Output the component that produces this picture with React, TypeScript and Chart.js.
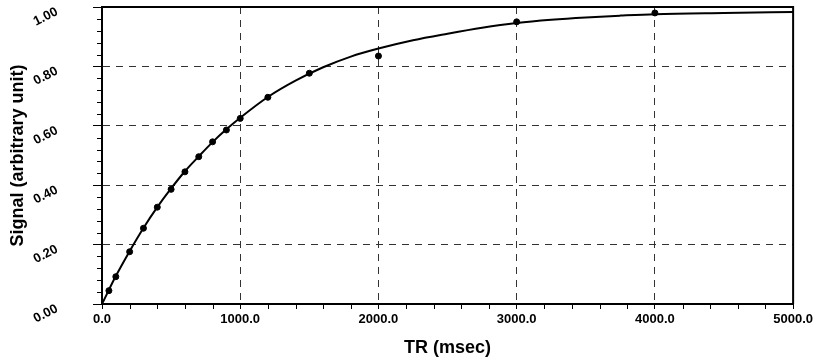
import React, { useEffect, useRef } from "react";
import { Chart, registerables } from "chart.js";

Chart.register(...registerables);

// Measured data points
const trMeasured = [50, 100, 200, 300, 400, 500, 600, 700, 800, 900, 1000, 1200, 1500, 2000, 3000, 4000];
const signalMeasured = [0.045, 0.092, 0.176, 0.255, 0.326, 0.386, 0.445, 0.496, 0.546, 0.586, 0.625, 0.696, 0.777, 0.835, 0.950, 0.980];

// Fitted curve
const trCurve = [0, 100, 200, 300, 400, 500, 600, 700, 800, 900, 1000, 1200, 1400, 1600, 1800, 2000, 2250, 2500, 2750, 3000, 3250, 3500, 3750, 4000, 4500, 5000];
const signalCurve = [0, 0.094, 0.178, 0.256, 0.326, 0.389, 0.447, 0.497, 0.545, 0.588, 0.627, 0.697, 0.752, 0.797, 0.833, 0.860, 0.888, 0.910, 0.930, 0.946, 0.957, 0.965, 0.971, 0.976, 0.980, 0.983];

const xMin = 0, xMax = 5000, xStep = 1000, xMinorStep = 200;
const yMin = 0, yMax = 1, yStep = 0.2, yMinorStep = 0.04;

const xTitle = "TR (msec)";
const yTitle = "Signal (arbitrary unit)";

const FONT = "'Liberation Sans', Arial, Helvetica, sans-serif";

const framePlugin = {
  id: "frameAndMinor",
  afterDraw(chart: any) {
    const { ctx, chartArea } = chart;
    const xs = chart.scales.x;
    const ys = chart.scales.y;
    ctx.save();
    ctx.strokeStyle = "#000";
    ctx.lineWidth = 1;
    // minor ticks x
    for (let v = xMin + xMinorStep; v < xMax; v += xMinorStep) {
      if (Math.abs(v % xStep) < 1e-6) continue;
      const px = Math.round(xs.getPixelForValue(v)) + 0.5;
      ctx.beginPath();
      ctx.moveTo(px, chartArea.bottom);
      ctx.lineTo(px, chartArea.bottom + 5);
      ctx.stroke();
    }
    // minor ticks y
    const n = Math.round((yMax - yMin) / yMinorStep);
    for (let i = 1; i < n; i++) {
      if (i % 5 === 0) continue;
      const v = yMin + i * yMinorStep;
      const py = Math.round(ys.getPixelForValue(v)) + 0.5;
      ctx.beginPath();
      ctx.moveTo(chartArea.left - 5, py);
      ctx.lineTo(chartArea.left, py);
      ctx.stroke();
    }
    // top and right frame
    ctx.lineWidth = 2;
    ctx.beginPath();
    ctx.moveTo(chartArea.left, chartArea.top);
    ctx.lineTo(chartArea.right, chartArea.top);
    ctx.lineTo(chartArea.right, chartArea.bottom);
    ctx.stroke();
    ctx.restore();
  },
};

export default function App() {
  const ref = useRef<HTMLCanvasElement>(null);
  useEffect(() => {
    if (!ref.current) return;
    const chart = new Chart(ref.current, {
      type: "scatter",
      data: {
        datasets: [
          {
            label: "fit",
            data: trCurve.map((x, i) => ({ x, y: signalCurve[i] })),
            showLine: true,
            borderColor: "#000",
            borderWidth: 2,
            pointRadius: 0,
            cubicInterpolationMode: "monotone",
          } as any,
          {
            label: "measured",
            data: trMeasured.map((x, i) => ({ x, y: signalMeasured[i] })),
            showLine: false,
            backgroundColor: "#000",
            borderColor: "#000",
            pointRadius: 3,
          },
        ],
      },
      options: {
        animation: false,
        responsive: true,
        maintainAspectRatio: false,
        layout: { padding: { top: 7, right: 22, left: 0, bottom: 0 } },
        plugins: { legend: { display: false }, tooltip: { enabled: false } },
        scales: {
          x: {
            type: "linear",
            min: xMin,
            max: xMax,
            afterFit: (s: any) => { s.height = 60; },
            ticks: {
              stepSize: xStep,
              maxRotation: 0,
              autoSkip: false,
              padding: 3,
              color: "#000",
              font: { family: FONT, size: 13, weight: "bold" },
              callback: (v: any) => Number(v).toFixed(1),
            },
            grid: { color: "#333", lineWidth: 1, tickLength: 5, tickColor: "#000", tickWidth: 1 },
            border: { color: "#000", width: 2, dash: [7, 6] },
            title: {
              display: true,
              text: xTitle,
              color: "#000",
              font: { family: FONT, size: 18, weight: "bold" },
              padding: { top: 0, bottom: 5 },
            },
          },
          y: {
            type: "linear",
            min: yMin,
            max: yMax,
            afterFit: (s: any) => { s.width = 102; s.paddingTop = 0; s.paddingBottom = 0; },
            ticks: {
              stepSize: yStep,
              minRotation: 27,
              maxRotation: 27,
              padding: 36,
              labelOffset: 4,
              color: "#000",
              font: { family: FONT, size: 13, weight: "bold" },
              callback: (v: any) => Number(v).toFixed(2),
            },
            grid: { color: "#333", lineWidth: 1, tickLength: 9, tickColor: "#000", tickWidth: 1 },
            border: { color: "#000", width: 2, dash: [7, 6] },
            title: {
              display: true,
              text: yTitle,
              color: "#000",
              font: { family: FONT, size: 18, weight: "bold" },
              padding: { top: 7, bottom: 0 },
            },
          },
        },
      },
      plugins: [framePlugin],
    });
    return () => chart.destroy();
  }, []);
  return (
    <div style={{ position: "fixed", left: 0, top: 0, width: 816, height: 364, background: "#fff" }}>
      <canvas ref={ref} />
    </div>
  );
}
